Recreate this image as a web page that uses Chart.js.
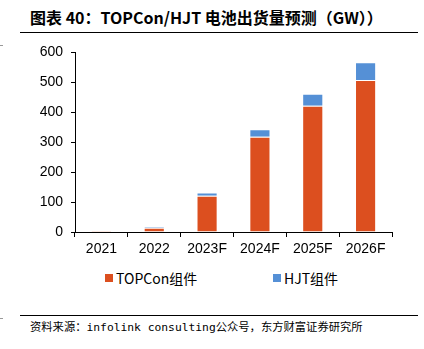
<!DOCTYPE html>
<html><head><meta charset="utf-8">
<script src="https://cdn.jsdelivr.net/npm/chart.js@4/dist/chart.umd.min.js"></script>
<style>
html,body{margin:0;padding:0;background:#fff;}
body{width:424px;height:349px;position:relative;overflow:hidden;font-family:"Noto Sans CJK SC",sans-serif;}
#title{position:absolute;left:30px;top:5px;font-size:16px;font-weight:bold;color:#000;white-space:nowrap;font-family:"Noto Sans CJK SC",sans-serif;}
#tline{position:absolute;left:20px;top:32px;width:398px;height:1px;background:#000;}
#wrap{position:absolute;left:0;top:36px;width:424px;height:230px;}
#legend{position:absolute;top:268px;left:0;width:424px;height:20px;font-size:14px;color:#000;}
.li{position:absolute;top:0;white-space:nowrap;display:flex;align-items:center;}
.sw{display:inline-block;width:8px;height:8px;margin-right:3px;}
#fline{position:absolute;left:20px;top:315px;width:398px;height:1px;background:#000;}
#src{position:absolute;left:30px;top:318px;font-size:11.3px;color:#000;white-space:nowrap;font-family:"DejaVu Sans Mono","Noto Sans CJK SC",monospace;}
.edge{position:absolute;left:0;width:3px;height:1px;background:#999;}
</style></head>
<body>
<div id="title">图表 40：TOPCon/HJT 电池出货量预测（GW））</div>
<div id="tline"></div>
<div class="edge" style="top:45px"></div>
<div class="edge" style="top:318px"></div>
<div id="wrap"><canvas id="c" width="424" height="230"></canvas></div>
<div id="legend"></div>
<div id="fline"></div>
<div id="src">资料来源：infolink consulting公众号，东方财富证券研究所</div>
<script>
const categories = ['2021','2022','2023F','2024F','2025F','2026F'];
const topconValues = [3, 14, 121, 318, 422, 508];
const hjtValues = [0.5, 4, 11, 25, 40, 59];
const seriesNames = ['TOPCon组件','HJT组件'];
const seriesColors = ['#DC4F1F','#5590D6'];
const yTicks = [0,100,200,300,400,500,600];

const leg = document.getElementById('legend');
const legX = [105, 273];
seriesNames.forEach((n,i)=>{
  const d=document.createElement('div');d.className='li';d.style.left=legX[i]+'px';
  d.innerHTML='<span class="sw" style="background:'+seriesColors[i]+'"></span><span>'+n+'</span>';
  leg.appendChild(d);
});

const tickFont = {family:'"Liberation Sans", Arial, sans-serif', size:14};
new Chart(document.getElementById('c'), {
  type:'bar',
  data:{
    labels:categories,
    datasets:[
      {label:seriesNames[0], data:topconValues, backgroundColor:seriesColors[0], borderColor:'rgba(255,255,255,0.45)', borderWidth:1, barPercentage:0.4, categoryPercentage:1.0},
      {label:seriesNames[1], data:hjtValues, backgroundColor:seriesColors[1], borderColor:'rgba(255,255,255,0.45)', borderWidth:1, barPercentage:0.4, categoryPercentage:1.0}
    ]
  },
  options:{
    responsive:false, animation:false,
    layout:{padding:{left:0,right:32,top:15,bottom:0}},
    plugins:{legend:{display:false}, tooltip:{enabled:false}},
    scales:{
      x:{stacked:true,
        grid:{display:true, drawOnChartArea:false, drawTicks:true, tickLength:5, color:'#000', offset:true},
        border:{display:true,color:'#000',width:1},
        ticks:{color:'#000', font:tickFont, padding:4, maxRotation:0},
        afterFit:(s)=>{s.height=34;}
      },
      y:{stacked:true, min:0, max:600,
        afterBuildTicks:(s)=>{s.ticks=yTicks.map(v=>({value:v}));},
        grid:{display:true, drawOnChartArea:false, drawTicks:true, tickLength:4, color:'#000'},
        border:{display:true,color:'#000',width:1},
        ticks:{color:'#000', font:tickFont, padding:8},
        afterFit:(s)=>{s.width=75;}
      }
    }
  }
});
</script>
</body></html>
